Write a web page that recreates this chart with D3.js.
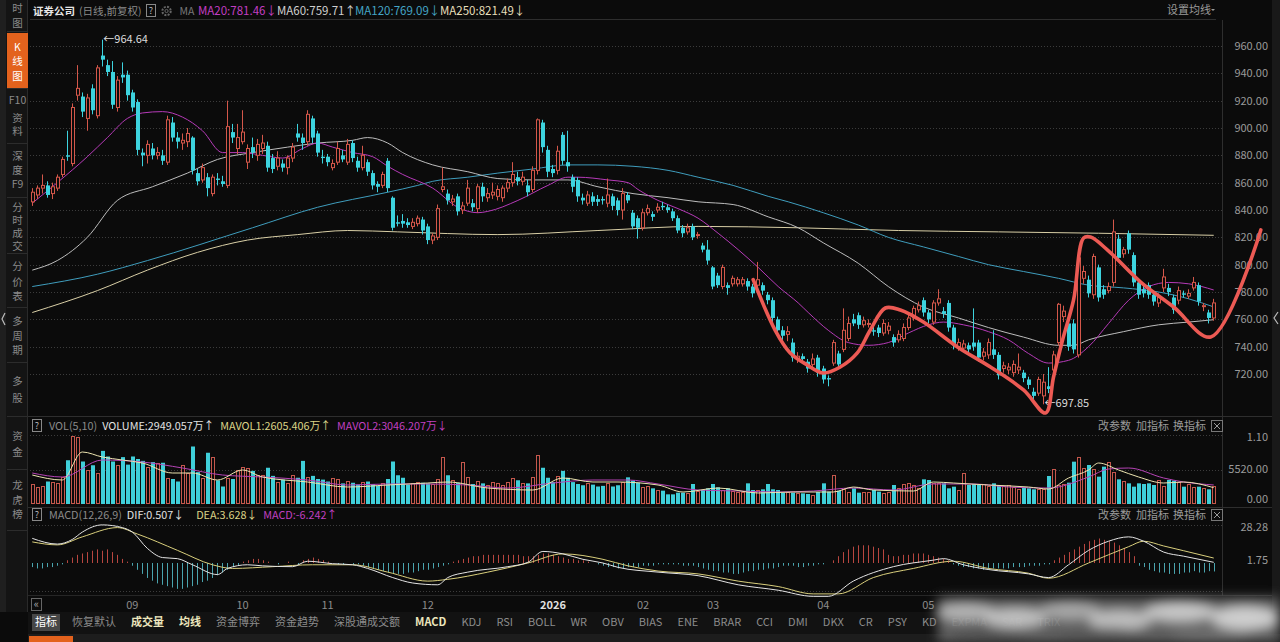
<!DOCTYPE html>
<html>
<head>
<meta charset="utf-8">
<script src="https://cdn.jsdelivr.net/npm/d3@7"></script>
<style>
html,body{margin:0;padding:0;background:#0b0b0b;overflow:hidden}
svg{display:block;font-family:"Noto Sans CJK SC","Noto Sans",sans-serif}
</style>
</head>
<body>
<div id="chart"></div>
<script>
// ---- data ----
// daily candles: [open, close, high, low]
var kline = [
[846,853,856,843],[851,856,858,848],[856,858,866,852],[858,851,861,849],[852,857,860,848],
[856,864,866,854],[866,877,879,864],[880,879,898,876],[874,915,918,872],[924,929,946,920],
[923,912,926,908],[907,922,925,898],[929,913,932,910],[909,944,946,907],[953,950,964.64,945],
[946,941,950,938],[941,917,949,914],[915,935,938,912],[939,937,948,933],[939,924,942,920],
[926,915,928,912],[919,884,921,880],[882,880,885,872],[880,888,891,874],[885,880,889,877],
[880,882,886,877],[880,876,884,873],[875,906,909,873],[904,893,908,890],[893,890,897,885],
[889,891,896,884],[890,896,900,886],[893,869,894,866],[867,861,870,858],[862,871,874,860],
[864,856,867,850],[852,864,866,850],[863,862,867,858],[861,859,865,857],[858,901,920,856],
[897,893,903,889],[885,893,903,881],[890,897,913,888],[875,885,888,870],[886,882,893,878],
[880,888,892,876],[885,889,895,881],[887,871,890,868],[878,870,881,867],[872,878,883,869],
[874,871,877,868],[871,878,880,866],[878,886,889,875],[896,893,903,890],[893,889,896,884],
[890,910,913,887],[907,893,909,889],[896,882,898,879],[879,878,884,874],[879,875,881,872],
[871,874,877,869],[875,885,890,873],[880,877,884,875],[875,888,892,873],[889,878,891,875],
[876,871,879,868],[871,880,887,869],[875,868,877,865],[867,858,869,855],[859,857,861,853],
[858,866,868,856],[876,856,878,853],[849,827,850,825],[831,830,836,828],[832,830,837,827],
[831,829,834,827],[828,831,834,826],[830,834,836,828],[833,825,835,822],[828,818,830,815],
[818,821,823,815],[820,841,844,818],[855,857,871,853],[852,847,855,844],[846,848,851,843],
[850,839,852,836],[840,843,846,837],[845,856,862,843],[845,842,848,839],[841,857,859,838],
[857,850,860,846],[849,852,856,846],[851,853,860,848],[850,855,858,847],[849,856,858,846],
[856,860,863,853],[860,866,875,857],[864,861,868,858],[861,864,868,858],[858,853,862,850],
[855,869,872,853],[869,906,907,866],[904,886,906,882],[884,868,887,864],[870,867,873,864],
[869,883,887,866],[895,876,897,873],[875,872,898,868],[864,857,866,853],[862,850,864,846],
[849,847,852,844],[845,851,854,843],[850,846,853,843],[848,846,851,843],[848,847,850,844],
[845,851,863,842],[850,843,852,840],[847,840,849,836],[840,852,856,833],[851,847,853,845],
[838,828,840,826],[834,827,836,819],[827,838,841,825],[838,841,844,836],[837,835,839,832],
[840,842,845,838],[843,842,846,840],[842,840,844,838],[839,834,841,832],[834,825,836,823],
[827,823,829,820],[824,827,830,822],[828,820,830,818],[822,822,824,819],[814,811,816,809],
[811,803,818,800],[798,784,799,782],[792,785,794,783],[784,798,800,782],[785,783,787,778],
[786,790,792,784],[786,789,791,784],[786,789,791,784],[788,784,790,781],[784,779,786,776],
[785,789,802,782],[785,781,787,778],[778,774,780,771],[774,761,776,757],[760,752,762,749],
[752,748,755,745],[749,751,755,744],[743,732,746,729],[731,733,736,728],[733,731,735,728],
[729,724,731,721],[727,731,735,725],[732,721,734,718],[724,716,726,713],[717,716,719,711],
[728,743,745,726],[735,727,737,724],[738,752,768,736],[746,757,762,744],[760,757,764,755],
[763,756,765,753],[756,759,762,754],[757,757,760,754],[752,751,755,748],[754,750,756,747],
[750,757,760,748],[752,755,758,749],[747,743,749,740],[745,749,752,743],[746,754,757,744],
[754,761,764,752],[761,768,770,759],[767,770,773,765],[774,765,776,762],[765,760,767,757],
[758,772,774,756],[772,775,782,770],[766,764,769,761],[772,754,774,751],[754,741,756,738],
[740,743,746,737],[739,742,745,736],[741,738,743,735],[743,740,768,737],[743,732,745,729],
[733,736,739,730],[734,743,746,731],[738,734,752,731],[734,719,736,716],[724,726,729,721],
[723,725,728,720],[721,727,730,718],[723,725,735,720],[721,717,723,714],[716,712,718,709],
[707,704,710,700],[706,716,718,704],[704,714,720,697.85],[711,709,725,706],[723,734,737,721],
[743,771,772,741],[762,766,770,758],[757,740,760,737],[757,738,760,735],[734,805,808,732],
[790,795,799,786],[789,779,792,776],[778,806,808,775],[798,776,800,773],[782,778,785,775],
[781,784,787,779],[787,824,833,784],[819,805,822,802],[808,811,813,805],[823,811,825,808],
[807,787,809,784],[787,778,789,775],[782,779,785,776],[785,778,787,775],[778,773,780,770],
[772,776,779,769],[783,791,797,780],[783,780,786,777],[776,767,778,764],[774,781,784,771],
[779,778,781,776],[777,779,782,775],[783,787,791,781],[785,773,787,770],[770,770,772,766],
[765,761,767,757],[761,772,775,759]
];

// volume, 万手
var volume = [
3200,2700,2900,3600,3500,3400,4300,7000,10900,10800,
6800,5400,6200,5000,8500,7600,6800,6200,7500,6300,
7600,7200,6900,6000,6700,6500,6600,4100,4000,3600,
6300,5000,9200,5100,4200,8200,7600,3800,2800,4100,
4000,5500,5900,5800,5300,4600,4700,5800,4500,3500,
3900,3300,4700,4200,6900,4300,4500,4000,3900,3600,
4200,4000,3300,3700,3400,3100,3500,3600,3200,2900,
3300,4000,6800,4600,4200,3100,3300,3500,3400,3300,
3200,4000,7500,4600,3900,3400,6800,4400,3200,3700,
3300,3100,3600,3300,3100,3600,4200,3800,3400,3300,
4300,7900,5800,4200,3500,4500,5300,4200,3500,3200,
3000,3400,3100,2800,2900,3400,2800,3000,
3573,4267,3733,3413,2773,2880,2507,2240,2133,1547,
1547,1813,1813,1813,3200,2133,2240,2507,3200,2667,
2240,2507,2133,1973,1920,3307,2240,
2240,2347,3200,2347,2240,1813,1920,1813,1813,1707,
1600,1387,1920,3307,1973,4640,2133,2347,1973,
2507,1813,1920,1920,2240,1973,1813,1973,3040,2507,
3200,3413,3040,2507,3947,3840,3413,3307,3307,2507,
2773,2240,4907,3040,3200,3040,3200,2880,3307,3040,
2880,3040,2667,2347,2667,2507,2347,2347,2347,4480,
5547,3040,3200,3413,6773,7573,5707,6240,5547,4373,
5973,6773,5173,3947,3733,3307,2773,3307,3200,3307,
3040,3840,2880,3840,3733,3573,2773,3200,2773,2773,2507,2347,2949
];

// MACD histogram
var macdHist = [
-3,-4,-4,-3,-3,-2,-1,
2,4,6,7,8,9,10,9,10,8,6,
3,1,-2,
-5,-8,-11,-13,-15,-16,-17,-18,-19,-19,-18,-17,-16,-14,-13,-11,-9,-7,-5,-3,-2,
1,2,3,3,2,1,
0,-1,0,1,0,-1,
2,3,4,3,2,1,
0,-1,-1,0,-1,-1,
-2,-3,-4,-5,-6,-7,-8,-8,-8,-7,-7,-6,-5,-5,-4,-3,-2,-1,1,
2,3,4,5,5,6,6,6,6,6,6,6,6,5,5,5,6,7,7,6,5,4,3,3,2,2,1,0,-1,
-2,-3,-3,-4,-4,-3,-3,-3,
-2,-2,-2,-1,-1,-1,-1,-1,-2,-2,-2,
-3,-4,-5,-6,-6,-7,-7,-8,-8,-7,-6,-6,-5,-5,-4,-4,-3,-2,-2,-2,-3,-3,-2,-2,-1,-1,0,
2,5,8,10,12,13,13,13,12,11,10,
6,5,5,6,6,7,7,7,6,5,4,3,2,
-1,-2,-3,-3,-4,-4,-5,-5,-4,-4,-4,-4,-3,-3,-3,-2,-2,-2,-1,-1,
2,4,6,8,10,12,14,16,17,18,17,16,15,13,11,8,5,
-2,-3,-5,-6,-7,-7,-8,-8,-8,-7,-7,-6,-7,-7,-6,-6.242
];

// moving averages read as [day index, value]
var ma20 = [[0,845],[5,860],[11,879],[15,893],[19,907],[22,911],[26,912],[30,908],[34,898],[38,882],
  [42,882],[46,880],[50,878],[54,885],[57,889],[60,886],[64,882],[68,879],[71,872],[74,866],[80,856],
  [85,842],[89,838],[91,839],[97,847],[103,858],[107,864],[109,864],[115,862],[119,860],[121,855],
  [125,847],[129,841],[133,834],[137,823],[141,811],[145,798],[149,784],[153,772],[155,765],[159,752],
  [163,743],[167,741],[171,743],[175,750],[179,756],[182,758],[186,756],[191,751],[195,745],[199,735],
  [203,728],[207,730],[211,740],[215,757],[219,774],[223,784],[227,787],[231,786],[236,781.46]];
var ma60 = [[0,796],[5,803],[11,820],[17,847],[24,857],[31,867],[37,877],[44,882],[51,886],[57,889],
  [64,891],[67,893],[71,889],[74,882],[80,873],[87,868],[93,863],[100,862],[107,862],[113,857],[120,852],
  [127,849],[133,846],[140,844],[147,835],[153,827],[158,816],[165,801],[171,784],[178,769],[185,761],
  [191,754],[198,747],[205,741],[208,741],[211,745],[218,751],[225,756],[231,758],[236,759.71]];
var ma120 = [[0,784],[13,793],[23,803],[44,827],[57,842],[71,853],[77,858],[80,861],[87,864],[93,867],
  [100,870],[107,873],[113,873],[120,872],[127,869],[133,864],[140,858],[147,850],[151,846],[158,838],
  [165,829],[171,820],[178,813],[185,806],[191,800],[198,795],[205,790],[211,785],[218,783],[225,780],
  [231,775],[236,769.09]];
var ma250 = [[0,765],[13,781],[23,796],[33,809],[43,818],[53,822],[63,825],[73,824],[93,822],[113,825],
  [133,828],[153,827],[173,825],[193,824],[213,823],[236,821.49]];

var mavol1 = [[0,4640],[6,3840],[10,8320],[14,7520],[18,7040],[22,6560],[28,4960],[32,4960],[37,3840],
  [42,5440],[46,4320],[55,3520],[63,2720],[71,3040],[79,3360],[83,3520],[91,2560],[100,2240],[106,4160],
  [112,3520],[117,3520],[125,3040],[130,1920],[137,2560],[145,1760],[152,1920],[160,1920],[164,2720],
  [168,2240],[176,2080],[180,3520],[184,3360],[191,3040],[199,2720],[203,2400],[207,4160],[211,5440],
  [213,6560],[217,5440],[221,4320],[226,3360],[230,3520],[236,2605.406]];
var mavol2 = [[0,4960],[6,4320],[14,7040],[22,6720],[30,5760],[38,4640],[46,4320],[55,3840],[63,3040],
  [71,3200],[79,3200],[87,3040],[95,2560],[104,3360],[112,3840],[119,3840],[125,3200],[133,2240],[141,2080],
  [149,1920],[156,2080],[164,2560],[172,2240],[180,3200],[188,3200],[195,2720],[203,2560],[211,4320],
  [215,5600],[219,5760],[226,4160],[230,3520],[236,3046.207]];

var dif = [[0,18.1],[5,13.9],[8,17.3],[10,22.7],[14,28],[18,26],[20,22.7],[23,10.7],[26,4],[29,3.2],
  [32,-1.3],[37,-8.5],[39,-4],[43,-1.3],[46,-2.1],[52,-2.7],[55,1.3],[60,-0.5],[64,-1.3],[67,-4],[72,-10.7],
  [76,-14.7],[81,-16],[83,-10.7],[87,-6.7],[95,-2.7],[99,0.5],[102,8.5],[106,6.7],[110,2.7],[114,0],
  [117,-3.2],[125,-6.7],[133,-9.3],[141,-16],[149,-20],[156,-24.5],[159,-24.5],[164,-13.3],[172,-2.7],
  [180,2.1],[182,3.2],[186,-1.3],[191,-4.8],[199,-8],[203,-10.7],[207,-1.3],[211,9.3],[215,16],[219,19.2],
  [222,16],[226,8],[230,5],[236,0.507]];
var dea = [[0,15.5],[5,13.3],[10,19.2],[17,26],[21,21.3],[29,9.3],[36,-1.3],[40,-4],[48,-2.7],[56,-1.3],
  [64,-1.3],[71,-6.7],[79,-13.3],[83,-12],[91,-6.7],[99,0],[106,6.7],[114,2.7],[119,-2.1],[125,-5.9],
  [133,-8],[141,-13.3],[149,-17.3],[156,-22.7],[161,-22.7],[168,-10.7],[176,-4],[184,1.3],[191,-4],
  [199,-7.5],[203,-11.2],[211,0],[219,12],[222,16],[226,12.5],[230,9],[236,3.628]];

// hand drawn red trend stroke, [day index, price]
var trendStroke = [[144,789],[148.4,752],[151.4,735.4],[154.8,726.6],[158,720.7],[161.4,725.1],
  [164.8,735.4],[167.4,752.2],[170.4,768.3],[173.4,766.8],[178,758],[184.8,739.8],[191.4,725.1],
  [198,708.3],[202.4,691.5],[204,717.8],[205.8,744.9],[208,774.2],[210,819.5],[211.4,820.2],
  [214.8,810.7],[221.4,787.3],[228,769],[235.4,747.1],[245.4,825.4]];

var priceTicks = [720, 740, 760, 780, 800, 820, 840, 860, 880, 900, 920, 940, 960];
var volTicks = [0, 5520, 11040];
var volTickLabels = ["0.00", "5520.00", "1.10"];
var macdTicks = [1.75, 28.28];
var monthTickIdx = [20, 42, 59, 79, 104, 122, 136, 158, 179];
var monthTickLabels = ["09", "10", "11", "12", "2026", "02", "03", "04", "05"];
var tabLabels = ["指标","恢复默认","成交量","均线","资金博弈","资金趋势","深股通成交额","MACD","KDJ","RSI",
  "BOLL","WR","OBV","BIAS","ENE","BRAR","CCI","DMI","DKX","CR","PSY","KD","EXPMA","SAR","TRIX"];

// ---- drawing ----
var W = 1280, H = 642;
var RED = "#d4574a", CYAN = "#3dd3de", BG = "#0b0b0b";

var svg = d3.select("#chart").append("svg").attr("width", W).attr("height", H);
var defs = svg.append("defs");
defs.append("filter").attr("id", "smudge").attr("x", "-20%").attr("y", "-50%").attr("width", "140%").attr("height", "200%")
	.append("feGaussianBlur").attr("stdDeviation", 6);

svg.append("rect").attr("width", W).attr("height", H).attr("fill", BG);

var n = kline.length;
var xBand = d3.scaleBand().domain(d3.range(n)).range([30.5, 1215.5]).paddingInner(0.3);
var xc = function(i){ return xBand(i) + xBand.bandwidth() / 2; };
var xi = d3.scaleLinear().domain([0, n - 1]).range([xc(0), xc(n - 1)]);

var yP = d3.scaleLinear().domain([720, 960]).range([374, 46]);
var yV = d3.scaleLinear().domain([0, 11040]).range([504, 435]);
var yM = d3.scaleLinear().domain([0, 28.28]).range([563, 524.5]);

function txt(g, x, y, s, color, size, anchor, weight){
	return g.append("text").attr("x", x).attr("y", y).attr("dy", "0.35em")
		.attr("fill", color).attr("font-size", size || 11)
		.attr("text-anchor", anchor || "start")
		.attr("font-weight", weight || "normal").text(s);
}
// lays out a row of labels left to right, each item: [text, colour, gap after, weight]
function flow(g, x, y, items, size){
	items.forEach(function(it){
		if(it[0] === "?"){
			g.append("rect").attr("x", Math.round(x) + 0.5).attr("y", y - 6.5).attr("width", 9).attr("height", 12)
				.attr("fill", "none").attr("stroke", "#888");
			txt(g, Math.round(x) + 5, y, "?", "#bbb", 9, "middle");
			x += 10 + it[2];
			return;
		}
		if(it[0] === "gear"){
			g.append("circle").attr("cx", x + 5).attr("cy", y).attr("r", 4.2).attr("fill", "none").attr("stroke", "#666")
				.attr("stroke-width", 2).attr("stroke-dasharray", "2,1.3");
			g.append("circle").attr("cx", x + 5).attr("cy", y).attr("r", 1.6).attr("fill", "none").attr("stroke", "#666");
			x += 10 + it[2];
			return;
		}
		var t = txt(g, x, y, it[0], it[1], size, "start", it[3]);
		x += t.node().getComputedTextLength() + it[2];
	});
}
function dotted(g, x1, x2, y){
	g.append("line").attr("x1", x1).attr("x2", x2).attr("y1", Math.round(y) + 0.5).attr("y2", Math.round(y) + 0.5)
		.attr("stroke", "#3c3c3c").attr("stroke-dasharray", "1,2");
}
function solid(g, x1, y1, x2, y2, c){
	g.append("line").attr("x1", x1).attr("y1", y1).attr("x2", x2).attr("y2", y2)
		.attr("stroke", c || "#2b2b2b").attr("stroke-width", 1);
}

// frame lines
var frame = svg.append("g");
solid(frame, 30, 19.5, 1216, 19.5, "#2e2e2e");
solid(frame, 28, 416.5, 1272, 416.5, "#2e2e2e");
solid(frame, 28, 507.5, 1272, 507.5, "#2e2e2e");
solid(frame, 28, 595.5, 1272, 595.5, "#262626");
solid(frame, 1222.5, 20, 1222.5, 596, "#2e2e2e");
frame.append("rect").attr("x", 1272).attr("y", 0).attr("width", 8).attr("height", H).attr("fill", "#191919");
frame.append("path").attr("d", "M1278,312 L1274,318 L1278,324").attr("fill", "none").attr("stroke", "#bbb").attr("stroke-width", 1.2);

// grids
var grid = svg.append("g");
priceTicks.forEach(function(p){ dotted(grid, 30, 1222, yP(p)); });
dotted(grid, 30, 1222, yV(11040));
dotted(grid, 30, 1222, yV(5520));
dotted(grid, 30, 1222, yM(28.28));
dotted(grid, 30, 1222, 591);

// axis labels
var axis = svg.append("g");
priceTicks.forEach(function(p){ txt(axis, 1268, yP(p), p.toFixed(2), "#9a9a9a", 11, "end"); });
volTicks.forEach(function(v, k){
	var y = Math.max(437, Math.min(499, yV(v)));
	txt(axis, 1268, y, volTickLabels[k], "#9a9a9a", 11, "end");
});
macdTicks.forEach(function(v){
	var y = Math.max(527, yM(v));
	txt(axis, 1268, y, v.toFixed(2), "#9a9a9a", 11, "end");
});

// ---- main panel: moving averages ----
var lineP = d3.line().x(function(d){ return xi(d[0]); }).y(function(d){ return yP(d[1]); }).curve(d3.curveMonotoneX);
var maG = svg.append("g").attr("fill", "none").attr("stroke-width", 1);
maG.append("path").attr("d", lineP(ma250)).attr("stroke", "#d9cfa6");
maG.append("path").attr("d", lineP(ma120)).attr("stroke", "#3f9dbd");
maG.append("path").attr("d", lineP(ma60)).attr("stroke", "#bdbdbd");
maG.append("path").attr("d", lineP(ma20)).attr("stroke", "#b63ab8");

// candles
var cg = svg.append("g");
kline.forEach(function(k, i){
	var o = k[0], c = k[1], h = k[2], l = k[3];
	var X = Math.round(xBand(i));
	var wx = X + 1.5;
	var up = c >= o;
	var top = yP(Math.max(o, c)), bot = yP(Math.min(o, c));
	if(up){
		cg.append("line").attr("x1", wx).attr("x2", wx).attr("y1", yP(h)).attr("y2", top).attr("stroke", RED);
		cg.append("line").attr("x1", wx).attr("x2", wx).attr("y1", bot).attr("y2", yP(l)).attr("stroke", RED);
		cg.append("rect").attr("x", X + 0.5).attr("y", top).attr("width", 3).attr("height", Math.max(1, bot - top))
			.attr("fill", BG).attr("stroke", RED).attr("stroke-width", 1);
	}else{
		cg.append("line").attr("x1", wx).attr("x2", wx).attr("y1", yP(h)).attr("y2", yP(l)).attr("stroke", CYAN);
		cg.append("rect").attr("x", X).attr("y", top).attr("width", 4).attr("height", Math.max(1.2, bot - top))
			.attr("fill", CYAN);
	}
});

// high / low markers
var hiIdx = d3.maxIndex(kline, function(k){ return k[2]; });
var loIdx = d3.minIndex(kline, function(k){ return k[3]; });
txt(svg, xc(hiIdx) + 1, yP(kline[hiIdx][2]) - 1, "\u2190" + kline[hiIdx][2].toFixed(2), "#dcdcdc", 11);
txt(svg, xc(loIdx) + 1, yP(kline[loIdx][3]) - 1, "\u2190" + kline[loIdx][3].toFixed(2), "#dcdcdc", 11);

// red hand drawn stroke
svg.append("path")
	.attr("d", d3.line().x(function(d){ return xi(d[0]); }).y(function(d){ return yP(d[1]); }).curve(d3.curveCatmullRom.alpha(0.5))(trendStroke))
	.attr("fill", "none").attr("stroke", "#ec5a54").attr("stroke-width", 3.6)
	.attr("stroke-linejoin", "round").attr("stroke-linecap", "round");

// ---- volume panel ----
var vg = svg.append("g");
volume.forEach(function(v, i){
	var k = kline[i];
	var X = Math.round(xBand(i));
	var up = k[1] >= k[0];
	var y = yV(v), b = yV(0);
	if(up){
		vg.append("rect").attr("x", X + 0.5).attr("y", Math.round(y) + 0.5).attr("width", 3).attr("height", Math.max(1, b - Math.round(y) - 1))
			.attr("fill", BG).attr("stroke", "#c4574c");
	}else{
		vg.append("rect").attr("x", X).attr("y", y).attr("width", 4).attr("height", b - y).attr("fill", "#3fcfd9");
	}
});
var lineV = d3.line().x(function(d){ return xi(d[0]); }).y(function(d){ return yV(d[1]); }).curve(d3.curveMonotoneX);
vg.append("path").attr("d", lineV(mavol2)).attr("fill", "none").attr("stroke", "#b543b5");
vg.append("path").attr("d", lineV(mavol1)).attr("fill", "none").attr("stroke", "#ece4b0");

// ---- MACD panel ----
var mg = svg.append("g");
macdHist.forEach(function(v, i){
	var x = Math.round(xc(i)) + 0.5;
	mg.append("line").attr("x1", x).attr("x2", x).attr("y1", yM(0)).attr("y2", yM(v))
		.attr("stroke", v >= 0 ? "#b8463f" : "#4aa4ae").attr("stroke-width", 1);
});
var lineM = d3.line().x(function(d){ return xi(d[0]); }).y(function(d){ return yM(d[1]); }).curve(d3.curveMonotoneX);
mg.append("path").attr("d", lineM(dea)).attr("fill", "none").attr("stroke", "#d9cf7c");
mg.append("path").attr("d", lineM(dif)).attr("fill", "none").attr("stroke", "#e4e4e4");

// ---- x axis months ----
var xg = svg.append("g");
monthTickIdx.forEach(function(idx, k){
	var isYear = monthTickLabels[k].length > 2;
	txt(xg, xc(idx), 605, monthTickLabels[k], isYear ? "#e0e0e0" : "#8c8c8c", 11, "middle", isYear ? "bold" : "normal");
});
xg.append("rect").attr("x", 31.5).attr("y", 598.5).attr("width", 10).attr("height", 12).attr("fill", "none").attr("stroke", "#666");
txt(xg, 36.5, 604.5, "\u00ab", "#aaa", 11, "middle");

// ---- headers ----
var hd = svg.append("g");
flow(hd, 33, 11, [
	["证券公司", "#e6e6e6", 4, "bold"], ["(日线,前复权)", "#8a8a8a", 4], ["?", "", 6], ["gear", "", 8],
	["MA", "#777", 6]
], 10.5);
txt(hd, 198, 11, "MA20:781.46\u2193", "#c23ec3", 11.5);
txt(hd, 277, 11, "MA60:759.71\u2191", "#cfcfcf", 11.5);
txt(hd, 355, 11, "MA120:769.09\u2193", "#44a5c6", 11.5);
txt(hd, 440, 11, "MA250:821.49\u2193", "#e6dfbb", 11.5);
txt(hd, 1167, 10, "设置均线", "#9a9a9a", 11);
hd.append("path").attr("d", "M1211,9 L1215,9 L1213,11 Z").attr("fill", "#9a9a9a");

function panelTools(g, y){
	txt(g, 1098, y, "改参数", "#9a9a9a", 11);
	txt(g, 1136, y, "加指标", "#9a9a9a", 11);
	txt(g, 1173, y, "换指标", "#9a9a9a", 11);
	g.append("rect").attr("x", 1211.5).attr("y", y - 5.5).attr("width", 11).attr("height", 11).attr("fill", "none").attr("stroke", "#777");
	g.append("path").attr("d", "M1214,"+(y-3)+" L1220,"+(y+3)+" M1220,"+(y-3)+" L1214,"+(y+3)).attr("stroke", "#999");
}
flow(hd, 32, 426, [
	["?", "", 7], ["VOL(5,10)", "#8a8a8a", 5], ["VOLUME:2949.057万\u2191", "#e2e2e2", 6],
	["MAVOL1:2605.406万\u2191", "#dcd487", 6], ["MAVOL2:3046.207万\u2193", "#c040c0", 0]
], 10.8);
panelTools(hd, 426);

flow(hd, 32, 515, [
	["?", "", 7], ["MACD(12,26,9)", "#8a8a8a", 5], ["DIF:0.507\u2193", "#e2e2e2", 12],
	["DEA:3.628\u2193", "#dcd487", 6], ["MACD:-6.242\u2191", "#c040c0", 0]
], 10.8);
panelTools(hd, 515);

// ---- left sidebar ----
var sb = svg.append("g");
sb.append("rect").attr("x", 0).attr("y", 0).attr("width", 28).attr("height", 612).attr("fill", "#141414");
sb.append("rect").attr("x", 0).attr("y", 0).attr("width", 6).attr("height", 612).attr("fill", "#1f1f1f");
solid(sb, 27.5, 0, 27.5, 612, "#2a2a2a");
sb.append("path").attr("d", "M5,313 L2,319 L5,325").attr("fill", "none").attr("stroke", "#bbb").attr("stroke-width", 1.2);
var sideItems = [
	{y0: 0, y1: 31, lines: [["时", 8], ["图", 23]]},
	{y0: 33, y1: 88, lines: [["K", 47], ["线", 61], ["图", 76]], active: true},
	{y0: 89, y1: 143, lines: [["F10", 100], ["资", 118], ["料", 131]]},
	{y0: 144, y1: 197, lines: [["深", 156], ["度", 170], ["F9", 184]]},
	{y0: 198, y1: 253, lines: [["分", 207], ["时", 220], ["成", 233], ["交", 246]]},
	{y0: 254, y1: 307, lines: [["分", 266], ["价", 282], ["表", 296]]},
	{y0: 308, y1: 362, lines: [["多", 321], ["周", 336], ["期", 350]]},
	{y0: 363, y1: 416, lines: [["多", 381], ["股", 398]]},
	{y0: 417, y1: 469, lines: [["资", 436], ["金", 452]]},
	{y0: 470, y1: 530, lines: [["龙", 485], ["虎", 500], ["榜", 514]]}
];
sideItems.forEach(function(it){
	if(it.active){
		sb.append("rect").attr("x", 7).attr("y", it.y0).attr("width", 21).attr("height", it.y1 - it.y0).attr("fill", "#e3621d");
	}
	solid(sb, 7, it.y1 + 0.5, 27, it.y1 + 0.5, "#2c2c2c");
	it.lines.forEach(function(l){
		txt(sb, 17.5, l[1], l[0], it.active ? "#ffffff" : "#8a8a8a", 10.5, "middle");
	});
});

// ---- bottom tab bar ----
var tb = svg.append("g");
tb.append("rect").attr("x", 28).attr("y", 612).attr("width", 1252).attr("height", 22).attr("fill", "#121212");
tb.append("rect").attr("x", 28).attr("y", 634).attr("width", 1252).attr("height", 8).attr("fill", "#1d1d1d");
tb.append("rect").attr("x", 29).attr("y", 636).attr("width", 44).attr("height", 6).attr("fill", "#e3621d");
var tx = 35;
tabLabels.forEach(function(t, k){
	var bright = (t === "成交量" || t === "均线" || t === "MACD");
	var col = k === 0 ? "#ffffff" : (bright ? "#ece6bd" : "#8c8c8c");
	var node = txt(tb, tx, 622, t, col, 11, "start", bright ? "bold" : "normal");
	var w = node.node().getComputedTextLength();
	if(k === 0){
		tb.insert("rect", "text").attr("x", tx - 3).attr("y", 614).attr("width", w + 6).attr("height", 17).attr("fill", "#474747");
	}
	tx += w + 15;
});

// smudged corner of the photo
var sm = svg.append("g").attr("filter", "url(#smudge)");
sm.append("rect").attr("x", 938).attr("y", 597).attr("width", 342).attr("height", 45).attr("fill", "#6e6e6e").attr("opacity", 0.85);
[[965, 612, 30, 9, "#c2c2c2"], [1015, 618, 32, 10, "#d0d0d0"], [1070, 611, 30, 9, "#b4b4b4"],
 [1120, 620, 32, 10, "#cfcfcf"], [1180, 612, 36, 10, "#d8d8d8"], [1245, 618, 34, 12, "#e2e2e2"],
 [1100, 634, 44, 7, "#5a5a5a"], [990, 634, 40, 7, "#555555"], [1210, 636, 40, 6, "#777777"]].forEach(function(e){
	sm.append("ellipse").attr("cx", e[0]).attr("cy", e[1]).attr("rx", e[2]).attr("ry", e[3]).attr("fill", e[4]).attr("opacity", 0.85);
});

if(volume.length !== n || macdHist.length !== n){ console.warn("length mismatch", n, volume.length, macdHist.length); }
</script>
</body>
</html>
